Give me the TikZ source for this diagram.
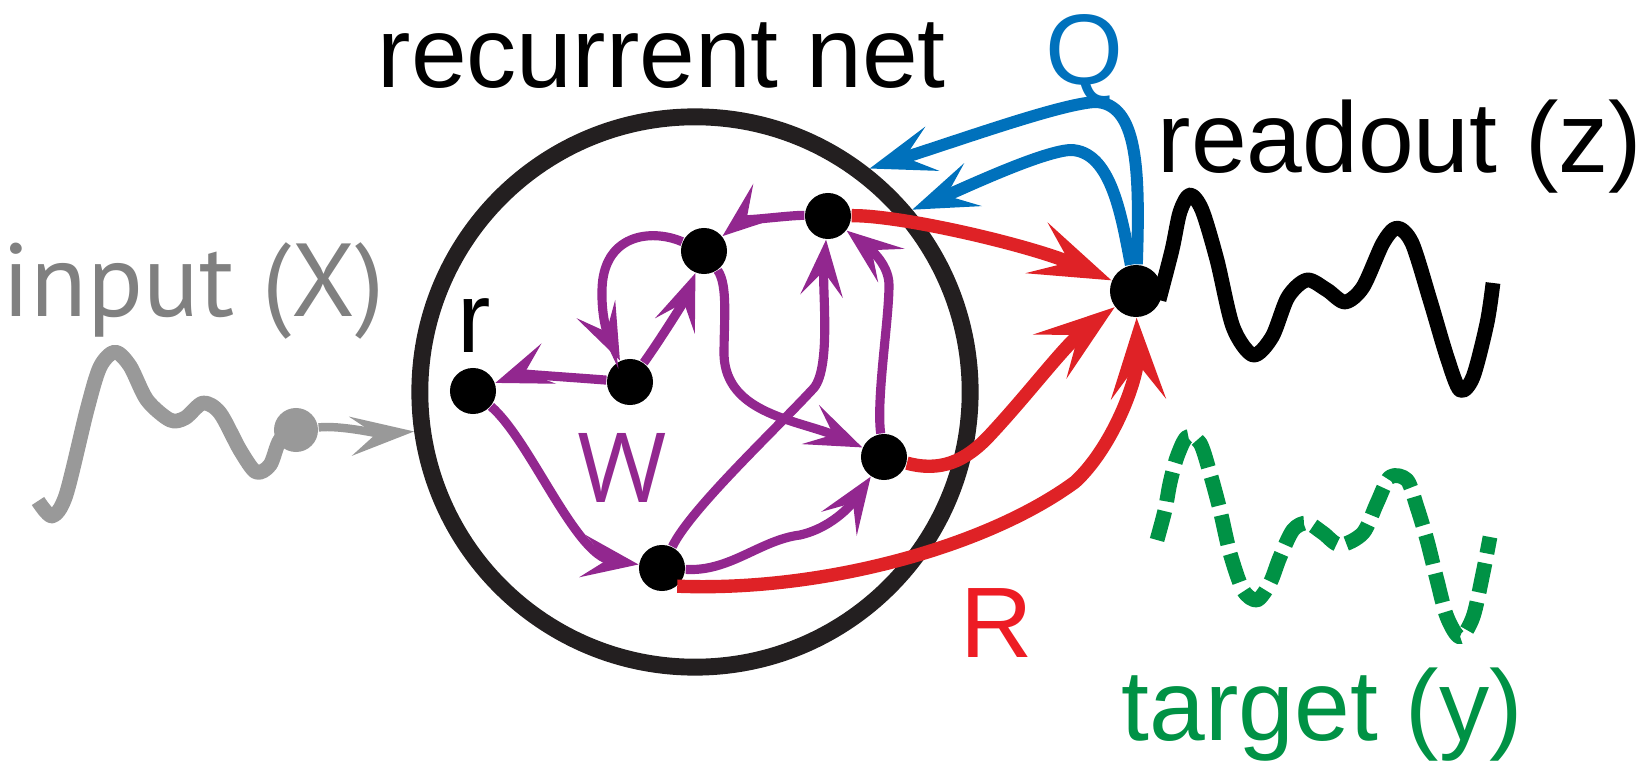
\documentclass[tikz,border=0pt]{standalone}
\usepackage{fontspec}
\setmainfont{Liberation Sans}
\newfontfamily\myriadlike{PT Sans}
\newfontfamily\wideface{Open Sans}
\usetikzlibrary{arrows.meta}
\definecolor{netblack}{HTML}{231F20}
\definecolor{wpurple}{HTML}{92278F}
\definecolor{rred}{HTML}{DF2226}
\definecolor{rtext}{HTML}{ED1C24}
\definecolor{qblue}{HTML}{0071BC}
\definecolor{tgreen}{HTML}{009245}
\definecolor{ingray}{HTML}{999999}
\definecolor{intext}{HTML}{808080}

\begin{document}
\begin{tikzpicture}[x=0.01cm,y=-0.01cm,
  unit/.style={circle,fill=black,inner sep=0pt,minimum size=4.6mm},
  wlink/.style={draw=wpurple,line width=2.6pt,
    -{Stealth[length=16pt,width=12pt,inset=7pt]}},
  rlink/.style={draw=rred,line width=3.8pt,
    -{Stealth[length=23pt,width=15.5pt,inset=10pt]}},
  qlink/.style={draw=qblue,line width=3.4pt,
    -{Stealth[length=18.5pt,width=13pt,inset=8pt]}},
  inlink/.style={draw=ingray,line width=2.4pt,
    -{Stealth[length=18pt,width=11pt,inset=7pt]}},
  wave/.style={line width=4.2pt,line join=round},
  lab/.style={anchor=base west,inner sep=0pt,
    font=\fontsize{28.5}{30}\selectfont},
  mlab/.style={lab,font=\myriadlike\fontsize{29.5}{31}\selectfont}
]
\useasboundingbox (0,0) rectangle (1642,773);

\node[circle,draw=netblack,line width=4.8pt,minimum size=5.5cm,
  inner sep=0pt] (net) at (695,392) {};

\draw[wave,ingray] plot[smooth] coordinates {(38,501) (52,516) (66,495)
  (87,410) (100,367) (115,352) (130,366) (147,400) (170,420) (185,418)
  (203,403) (220,413) (240,450) (256,472) (270,465) (280,440) (296,430)};
\draw[wave] plot[smooth] coordinates {(1159,300) (1172,250) (1180,212)
  (1190,195) (1202,210) (1217,260) (1233,327) (1253,355) (1272,337)
  (1288,297) (1307,280) (1327,290) (1345,302) (1363,287) (1383,243)
  (1397,228) (1412,243) (1430,300) (1447,357) (1460,390) (1473,377)
  (1487,323) (1493,283)};
\draw[wave,tgreen,dash pattern=on 8.5pt off 2.8pt] plot[smooth]
  coordinates {(1157,540) (1165,510) (1170,483) (1177,457) (1187,437)
  (1200,443) (1210,473) (1220,510) (1230,553) (1243,590) (1257,600)
  (1270,583) (1280,557) (1293,530) (1307,523) (1323,533) (1340,545)
  (1363,533) (1377,503) (1390,477) (1407,480) (1417,507) (1427,540)
  (1437,580) (1447,617) (1460,637) (1473,617) (1483,573) (1490,537)};

\node[unit] (nr) at (473,391) {};
\node[unit] (nmid) at (630,382) {};
\node[unit] (ntl) at (704,251) {};
\node[unit] (ntop) at (828,216) {};
\node[unit] (nright) at (884,457) {};
\node[unit] (nbot) at (662,568) {};
\node[unit,minimum size=5.2mm] (ro) at (1136,291) {};
\node[unit,fill=ingray,minimum size=4.4mm] (inp) at (296,430) {};

\draw[wlink] (nmid) .. controls (580,378) and (520,374) .. (nr);
\draw[wlink] (nr) .. controls (530,440) and (575,555) .. (nbot);
\draw[wlink] (nbot) .. controls (730,572) and (760,540) .. (800,535)
  .. controls (835,527) and (855,500) .. (nright);
\draw[wlink] (nbot) .. controls (690,510) and (770,435) .. (812,390)
  .. controls (832,372) and (822,290) .. (ntop);
\draw[wlink] (ntl) .. controls (728,285) and (724,320) .. (724,355)
  .. controls (726,415) and (800,420) .. (nright);
\draw[wlink] (nright) .. controls (876,400) and (889,320) .. (889,285)
  .. controls (889,262) and (865,245) .. (ntop);
\draw[wlink] (ntop) .. controls (790,215) and (740,222) .. (ntl);
\draw[wlink] (ntl) .. controls (650,228) and (603,235) .. (602,290)
  .. controls (601,330) and (615,350) .. (nmid);
\draw[wlink] (nmid) .. controls (660,340) and (685,300) .. (ntl);

\draw[rlink] (ntop) .. controls (900,215) and (1030,245) .. (ro);
\draw[rlink] (nright) .. controls (940,472) and (965,462) .. (990,435)
  .. controls (1030,392) and (1065,345) .. (ro);
\draw[rlink] (nbot.-50) .. controls (820,592) and (985,548) .. (1075,482)
  .. controls (1112,448) and (1138,380) .. (ro);

\draw[qlink] (ro) .. controls (1140,170) and (1138,103) .. (1095,102)
  .. controls (1060,104) and (960,140) .. (net.52);
\draw[qlink] (ro) .. controls (1122,220) and (1112,150) .. (1070,150)
  .. controls (1040,152) and (960,190) .. (net.40);

\draw[inlink] (inp) .. controls (340,425) and (380,434) .. (net.188);

\node[lab] (title) at (377,88) {recurrent net};
\node[lab,text=qblue] (qlab) at (1045,85) {Q};
\node[lab] (rolab) at (1157,173) {readout (z)};
\node[mlab,text=intext] (inlab) at (2,317) {input (X)};
\node[lab] (rlab) at (457,353) {r};
\node[lab,text=wpurple,font=\wideface\fontsize{27.5}{30}\selectfont]
  (wlab) at (577,502) {W};
\node[lab,text=rtext] (rlabel) at (960,657) {R};
\node[lab,text=tgreen] (tlab) at (1121,740) {target (y)};
\end{tikzpicture}
\end{document}
